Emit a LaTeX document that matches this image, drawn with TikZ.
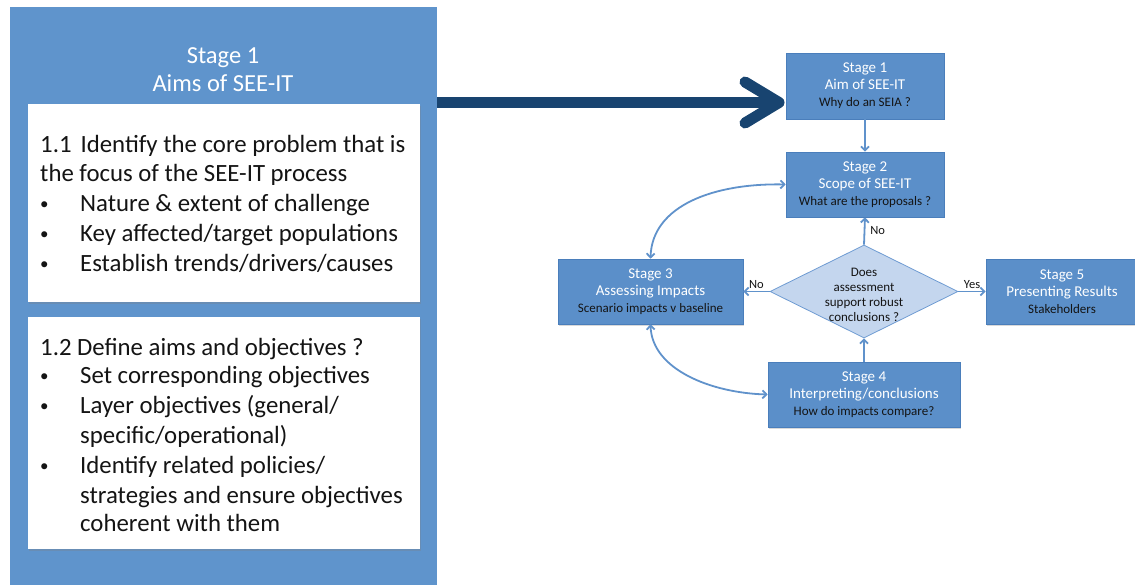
\documentclass[tikz,border=0pt]{standalone}
\usepackage{fontspec}
\setmainfont{Carlito}
\usetikzlibrary{arrows.meta,shapes.geometric,shadows}
\definecolor{panelblue}{RGB}{95,148,204}
\definecolor{boxblue}{RGB}{91,143,201}
\definecolor{boxedge}{RGB}{74,126,187}
\definecolor{navy}{RGB}{24,68,112}
\definecolor{diafill}{RGB}{196,214,238}
\definecolor{diaedge}{RGB}{110,155,210}
\definecolor{linkblue}{RGB}{96,146,203}
\definecolor{darktext}{RGB}{20,20,20}
\newcommand{\subtxt}{\color{darktext}\fontsize{13}{16.5}\selectfont}
\begin{document}
\begin{tikzpicture}[x=1pt,y=-1pt,
  panel/.style={fill=panelblue, anchor=north west, inner sep=0pt, outer sep=0pt},
  whitebox/.style={fill=white, anchor=north west, inner sep=0pt, outer sep=0pt,
    drop shadow={shadow xshift=0.5pt, shadow yshift=-2pt, opacity=0.3}},
  ttl/.style={anchor=base, inner sep=0pt, text=white, font=\fontsize{24.5}{28}\selectfont},
  ltext/.style={anchor=base west, inner sep=0pt, text=darktext, font=\fontsize{24.8}{29}\selectfont},
  dot/.style={anchor=base west, inner sep=0pt, text=darktext, font=\fontsize{17}{29}\selectfont},
  stagebox/.style={rectangle, fill=boxblue, draw=boxedge, line width=0.6pt, inner sep=0pt,
    align=center, text=white, font=\fontsize{15}{17}\selectfont,
    drop shadow={shadow xshift=0.5pt, shadow yshift=-1.5pt, opacity=0.3}},
  decision/.style={diamond, fill=diafill, draw=diaedge, line width=0.8pt, inner sep=0pt,
    minimum width=188pt, minimum height=93pt},
  dtext/.style={align=center, inner sep=0pt, text=darktext, font=\fontsize{13}{15.2}\selectfont},
  link/.style={draw=linkblue, line width=1.8pt, -{Straight Barb[length=4pt,width=8pt]}},
  biglink/.style={draw=linkblue, line width=1.8pt, {Straight Barb[length=4pt,width=8pt]}-{Straight Barb[length=4pt,width=8pt]}},
  lbl/.style={inner sep=1pt, text=darktext, font=\fontsize{12.5}{14}\selectfont},
  fat/.style={draw=navy, line width=11pt, line cap=round, line join=round}
]
\useasboundingbox (0,0) rectangle (1135,585);

% left panel
\node[panel, minimum width=427pt, minimum height=600pt] (panel) at (10,7) {};
\node[ttl] (t1) at (223,64) {Stage 1};
\node[ttl] (t2) at (223,92) {Aims of SEE-IT};

\node[whitebox, minimum width=392pt, minimum height=198pt] (wb1) at (28,104) {};
\node[ltext] (a1) at (40,153) {1.1\hspace{9pt}Identify the core problem that is};
\node[ltext] (a2) at (40,182) {the focus of the SEE-IT process};
\node[dot] (b1) at (40,210) {•};
\node[ltext] (a3) at (80,212) {Nature \& extent of challenge};
\node[dot] (b2) at (40,240) {•};
\node[ltext] (a4) at (80,242) {Key affected/target populations};
\node[dot] (b3) at (40,270) {•};
\node[ltext] (a5) at (80,272) {Establish trends/drivers/causes};

\node[whitebox, minimum width=392pt, minimum height=232pt] (wb2) at (28,317) {};
\node[ltext] (c1) at (40,355) {1.2 Define aims and objectives ?};
\node[dot] (b4) at (40,381) {•};
\node[ltext] (c2) at (80,383) {Set corresponding objectives};
\node[dot] (b5) at (40,411) {•};
\node[ltext] (c3) at (80,413) {Layer objectives (general/};
\node[ltext] (c4) at (80,443) {specific/operational)};
\node[dot] (b6) at (40,471) {•};
\node[ltext] (c5) at (80,473) {Identify related policies/};
\node[ltext] (c6) at (80,503) {strategies and ensure objectives};
\node[ltext] (c7) at (80,531) {coherent with them};

% flowchart
\node[stagebox, minimum width=158pt, minimum height=66pt] (S1) at (865,86)
  {Stage 1\\Aim of SEE-IT\\{\subtxt Why do an SEIA ?}};
\node[stagebox, minimum width=158pt, minimum height=65pt] (S2) at (865,184.5)
  {Stage 2\\Scope of SEE-IT\\{\subtxt What are the proposals ?}};
\node[stagebox, minimum width=185pt, minimum height=65pt] (S3) at (650.5,291.5)
  {Stage 3\\Assessing Impacts\\{\subtxt Scenario impacts v baseline}};
\node[decision] (D) at (864,291.5) {};
\node[dtext] (Dt) at (864,295) {Does\\assessment\\support robust\\conclusions ?};
\node[stagebox, minimum width=192pt, minimum height=65pt] (S4) at (864,394.5)
  {Stage 4\\Interpreting/conclusions\\{\subtxt How do impacts compare?}};
\node[stagebox, minimum width=152pt, minimum height=65pt] (S5) at (1062,291.5)
  {Stage 5\\Presenting Results\\{\subtxt Stakeholders}};

\draw[link] (S1) -- (S2);
\draw[link] (D.north) -- node[lbl, right=4pt] (nno1) {No} (S2.south);
\draw[link] (D.west) -- node[lbl, above=1pt] (nno2) {No} (S3.east);
\draw[link] (D.east) -- node[lbl, above=1pt] (nyes) {Yes} (S5.west);
\draw[link] (S4.north) -- (D.south);
\draw[biglink] (S3.north) .. controls (652,205) and (715,183) .. (S2.west);
\draw[biglink] (S3.south) .. controls (652,370) and (712,393) .. (S4.west);

% big arrow
\draw[fat, line cap=butt] (panel.east |- 0,102.5) -- (774,102.5);
\draw[fat] (745,82) -- (779,102.5) -- (745,123);
\end{tikzpicture}
\end{document}
